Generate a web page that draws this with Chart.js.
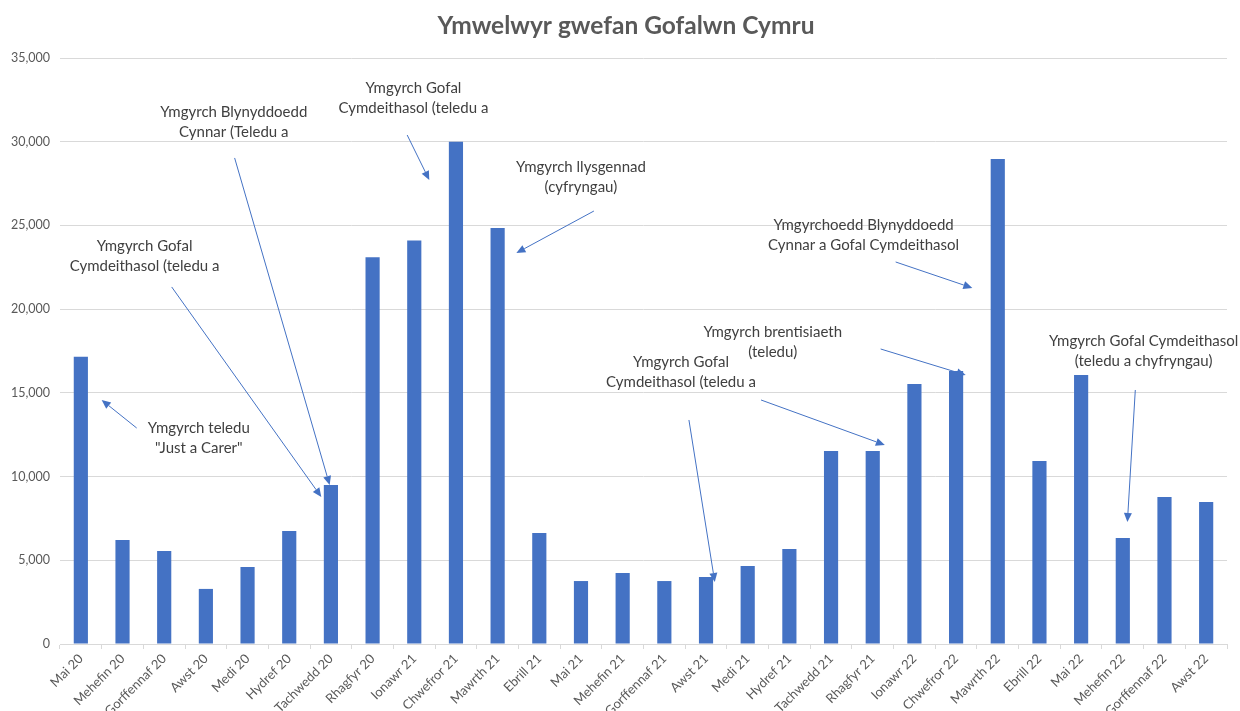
<!DOCTYPE html>
<html>
<head>
<meta charset="utf-8">
<script src="https://cdn.jsdelivr.net/npm/chart.js@4"></script>
<style>
  html, body { margin: 0; padding: 0; background: #fff; }
  #wrap { width: 1240px; height: 711px; position: relative; }
</style>
</head>
<body>
<div id="wrap"><canvas id="siart" width="1240" height="711"></canvas></div>
<script>
// misoedd
const misoedd = ["Mai 20", "Mehefin 20", "Gorffennaf 20", "Awst 20", "Medi 20", "Hydref 20", "Tachwedd 20",
  "Rhagfyr 20", "Ionawr 21", "Chwefror 21", "Mawrth 21", "Ebrill 21", "Mai 21", "Mehefin 21",
  "Gorffennaf 21", "Awst 21", "Medi 21", "Hydref 21", "Tachwedd 21", "Rhagfyr 21", "Ionawr 22",
  "Chwefror 22", "Mawrth 22", "Ebrill 22", "Mai 22", "Mehefin 22", "Gorffennaf 22", "Awst 22"];

// ymwelwyr y mis
const ymwelwyr = [17150, 6210, 5560, 3290, 4600, 6750, 9500, 23100, 24100, 30000, 24850, 6630,
  3760, 4240, 3760, 4000, 4660, 5670, 11530, 11530, 15530, 16300, 28970, 10930, 16070, 6330, 8780, 8480];

const yMax = 35000;
const yStep = 5000;

// nodiadau: testun, [mynegai mis, gwerth] canol y llinell gyntaf
const nodiadauTestun = [
  ["Ymgyrch teledu", "\"Just a Carer\""],
  ["Ymgyrch Gofal", "Cymdeithasol (teledu a"],
  ["Ymgyrch Blynyddoedd", "Cynnar (Teledu a"],
  ["Ymgyrch Gofal", "Cymdeithasol (teledu a"],
  ["Ymgyrch llysgennad", "(cyfryngau)"],
  ["Ymgyrchoedd Blynyddoedd", "Cynnar a Gofal Cymdeithasol"],
  ["Ymgyrch brentisiaeth", "(teledu)"],
  ["Ymgyrch Gofal", "Cymdeithasol (teledu a"],
  ["Ymgyrch Gofal Cymdeithasol", "(teledu a chyfryngau)"]
];
const nodiadauLle = [
  [2.83, 12900], [1.53, 23770], [3.67, 31776], [7.98, 33210], [12.0, 28490],
  [18.78, 25027], [16.60, 18636], [14.40, 16844], [25.50, 18098]
];
// saethau: [o mynegai, o gwerth, i mynegai, i gwerth]
const saethau = [
  [1.34, 12900, 0.50, 14575],
  [2.18, 21325, 5.77, 8780],
  [3.69, 29030, 5.97, 9497],
  [7.83, 30400, 8.36, 27715],
  [12.31, 25860, 10.45, 23355],
  [19.55, 22817, 21.39, 21264],
  [19.19, 17620, 21.23, 16067],
  [16.32, 14574, 19.29, 11886],
  [14.59, 13380, 15.21, 3703],
  [25.30, 15171, 25.11, 7287]
];

const ffont = "Lato, 'Open Sans', sans-serif";

const nodiadauPlugin = {
  id: 'nodiadau',
  afterDatasetsDraw(chart) {
    const ctx = chart.ctx;
    const xs = chart.scales.x, ys = chart.scales.y;
    ctx.save();
    // saethau
    ctx.strokeStyle = '#4472C4';
    ctx.fillStyle = '#4472C4';
    ctx.lineWidth = 1;
    for (let s of saethau) {
      let x1 = xs.getPixelForValue(s[0]), y1 = ys.getPixelForValue(s[1]);
      let x2 = xs.getPixelForValue(s[2]), y2 = ys.getPixelForValue(s[3]);
      let ang = Math.atan2(y2 - y1, x2 - x1);
      let hl = 9, hw = 4;
      ctx.beginPath();
      ctx.moveTo(x1, y1);
      ctx.lineTo(x2 - Math.cos(ang) * hl, y2 - Math.sin(ang) * hl);
      ctx.stroke();
      ctx.beginPath();
      ctx.moveTo(x2, y2);
      ctx.lineTo(x2 - Math.cos(ang) * hl - Math.sin(ang) * hw, y2 - Math.sin(ang) * hl + Math.cos(ang) * hw);
      ctx.lineTo(x2 - Math.cos(ang) * hl + Math.sin(ang) * hw, y2 - Math.sin(ang) * hl - Math.cos(ang) * hw);
      ctx.closePath();
      ctx.fill();
    }
    // testun
    ctx.fillStyle = '#404040';
    ctx.font = "15px " + ffont;
    ctx.textAlign = 'center';
    ctx.textBaseline = 'middle';
    for (let i = 0; i < nodiadauTestun.length; i++) {
      let x = xs.getPixelForValue(nodiadauLle[i][0]);
      let y = ys.getPixelForValue(nodiadauLle[i][1]);
      nodiadauTestun[i].forEach((ll, j) => ctx.fillText(ll, x, y + j * 20));
    }
    // teitl
    ctx.fillStyle = '#595959';
    ctx.font = "bold 24.5px " + ffont;
    ctx.fillText("Ymwelwyr gwefan Gofalwn Cymru", chart.width / 2 + 6, 26);
    ctx.restore();
  }
};

new Chart("siart", {
  type: 'bar',
  data: {
    labels: misoedd,
    datasets: [{
      label: 'Ymwelwyr',
      data: ymwelwyr,
      backgroundColor: '#4472C4',
      borderWidth: 0,
      categoryPercentage: 1,
      barPercentage: 0.34
    }]
  },
  options: {
    responsive: false,
    animation: false,
    devicePixelRatio: 1,
    layout: { padding: { top: 58, right: 13, left: 0, bottom: 0 } },
    plugins: {
      legend: { display: false },
      title: { display: false },
      tooltip: { enabled: false }
    },
    scales: {
      x: {
        grid: { display: true, drawOnChartArea: false, offset: true, color: '#d9d9d9', tickLength: 5 },
        border: { color: '#d9d9d9' },
        ticks: { color: '#595959', font: { family: ffont, size: 13 }, minRotation: 45, maxRotation: 45, autoSkip: false, padding: 2 },
        afterFit(s) { s.height = 67; }
      },
      y: {
        min: 0, max: yMax,
        grid: { color: '#d9d9d9', drawTicks: false },
        border: { display: false },
        ticks: {
          stepSize: yStep, color: '#595959', padding: 10,
          font: { family: ffont, size: 12.5 },
          callback: v => v.toLocaleString('en-US')
        },
        afterFit(s) { s.width = 60; }
      }
    }
  },
  plugins: [nodiadauPlugin]
});
</script>
</body>
</html>
